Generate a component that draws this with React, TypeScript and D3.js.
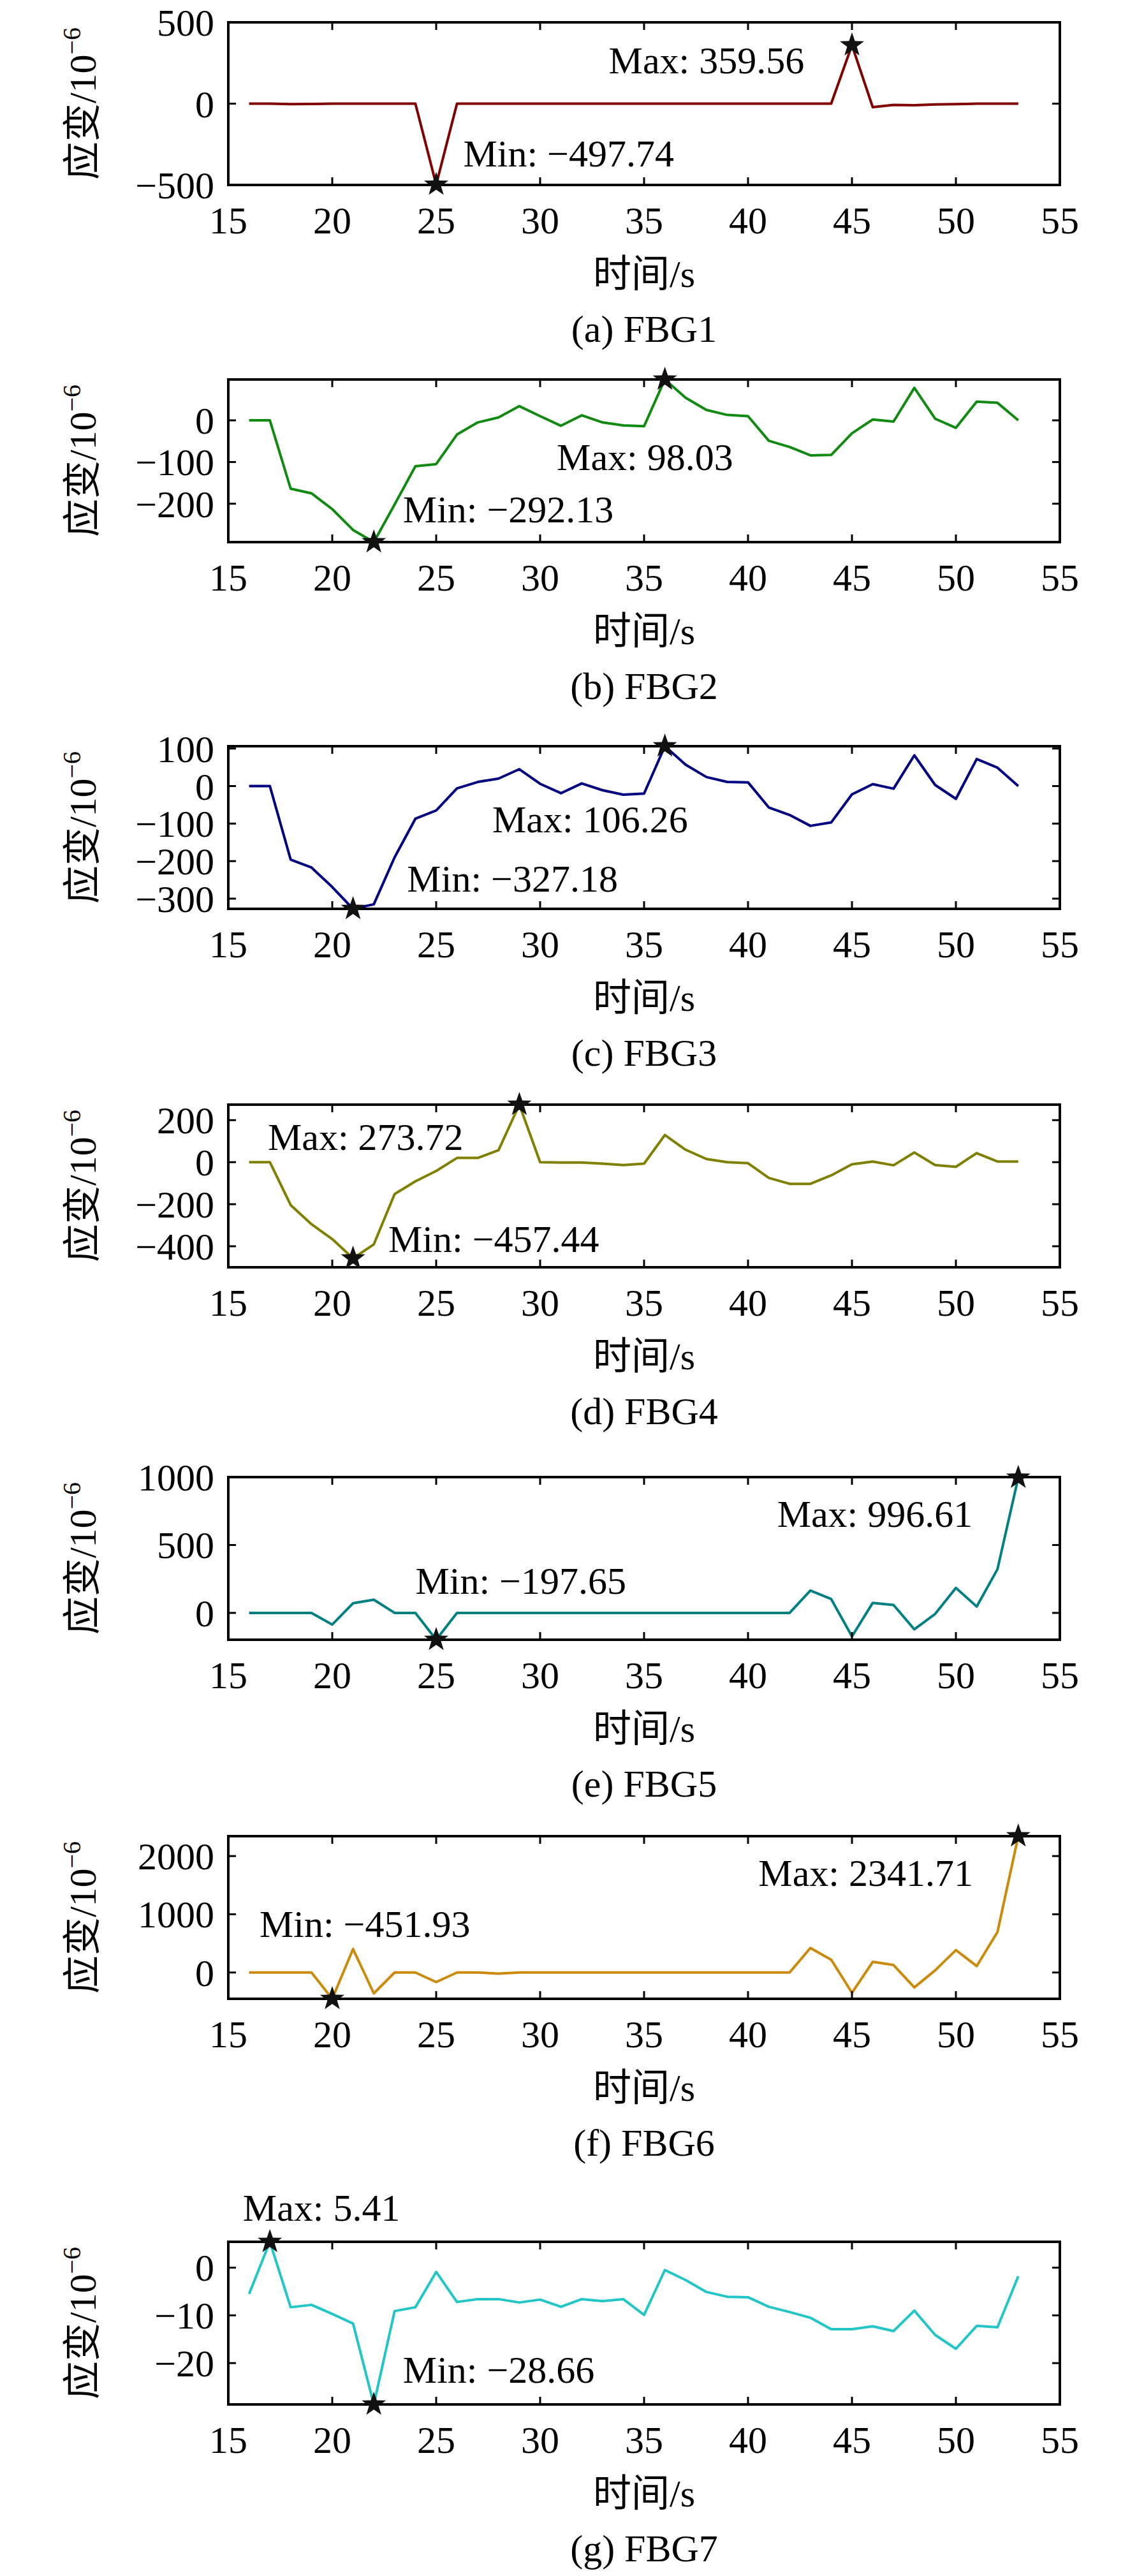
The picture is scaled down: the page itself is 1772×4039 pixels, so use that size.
import React from 'react';
import * as d3 from 'd3';

const times = d3.range(16, 54);

const fbg1 = [0, 0, -3, -2, 0, 0, 0, 0, 0, -497.74, 0, 0, 0, 0, 0, 0, 0, 0, 0, 0, 0, 0, 0, 0, 0, 0, 0, 0, 0, 359.56, -22, -8, -10, -5, -3, 0, 0, 0];
const fbg2 = [0, 0, -164, -175, -213, -263, -292.13, -202, -110, -105, -34, -5, 7, 34, 10, -13, 12, -5, -12, -14, 98.03, 54, 25, 13, 10, -49, -64, -84, -83, -31, 2, -3, 78, 4, -18, 45, 42, 0];
const fbg3 = [0, 0, -196, -217, -269, -327.18, -315, -190, -87, -65, -6, 11, 20, 45, 6, -19, 7, -11, -23, -20, 106.26, 57, 24, 11, 10, -57, -77, -106, -97, -22, 5, -7, 82, 3, -34, 72, 49, 0];
const fbg4 = [0, 0, -204, -295, -366, -457.44, -391, -152, -91, -42, 20, 20, 57, 273.72, 0, -2, -2, -7, -14, -7, 129, 59, 15, 0, -5, -75, -103, -103, -63, -10, 3, -15, 46, -14, -22, 43, 3, 3];
const fbg5 = [0, 0, 0, 0, -86, 71, 97, 0, 0, -197.65, 0, 0, 0, 0, 0, 0, 0, 0, 0, 0, 0, 0, 0, 0, 0, 0, 0, 165, 102, -173, 74, 58, -121, -8, 184, 47, 322, 996.61];
const fbg6 = [0, 0, 0, 0, -451.93, 403, -359, 0, 0, -165, 0, 0, -18, 0, 0, 0, 0, 0, 0, 0, 0, 0, 0, 0, 0, 0, 0, 421, 220, -348, 183, 128, -256, 37, 385, 110, 696, 2341.71];
const fbg7 = [-5.5, 5.41, -8.3, -7.8, -9.7, -11.7, -28.66, -9.1, -8.3, -0.9, -7.2, -6.6, -6.6, -7.3, -6.7, -8.2, -6.6, -7.0, -6.6, -9.9, -0.5, -2.6, -5.1, -6.1, -6.2, -8.2, -9.3, -10.5, -12.9, -12.9, -12.3, -13.3, -9.0, -14.1, -17.0, -12.2, -12.5, -1.8];

const xTicks = [15, 20, 25, 30, 35, 40, 45, 50, 55];

interface Panel {
  name: string;
  values: number[];
  color: string;
  domain: [number, number];
  yTicks: number[];
  maxLabel: [number, number];
  minLabel: [number, number];
  top: number;
}

const panels: Panel[] = [
  { name: '(a) FBG1', values: fbg1, color: '#800000', domain: [-500, 500], yTicks: [-500, 0, 500], maxLabel: [33.3, 185], minLabel: [26.3, -386], top: 35 },
  { name: '(b) FBG2', values: fbg2, color: '#108a10', domain: [-292.13, 98.03], yTicks: [-200, -100, 0], maxLabel: [30.8, -119], minLabel: [23.4, -245], top: 595 },
  { name: '(c) FBG3', values: fbg3, color: '#000080', domain: [-327.18, 106.26], yTicks: [-300, -200, -100, 0, 100], maxLabel: [27.7, -124], minLabel: [23.6, -281], top: 1170 },
  { name: '(d) FBG4', values: fbg4, color: '#808000', domain: [-500, 273.72], yTicks: [-400, -200, 0, 200], maxLabel: [16.9, 59], minLabel: [22.7, -427], top: 1732 },
  { name: '(e) FBG5', values: fbg5, color: '#008080', domain: [-197.65, 1000], yTicks: [0, 500, 1000], maxLabel: [41.4, 632], minLabel: [24.0, 142], top: 2316 },
  { name: '(f) FBG6', values: fbg6, color: '#cc8a0a', domain: [-451.93, 2341.71], yTicks: [0, 1000, 2000], maxLabel: [40.5, 1484], minLabel: [16.5, 615], top: 2879 },
  { name: '(g) FBG7', values: fbg7, color: '#22c6c6', domain: [-28.66, 5.41], yTicks: [-20, -10, 0], maxLabel: [15.7, 9.8], minLabel: [23.4, -24.1], top: 3515 },
];

const LEFT = 358;
const RIGHT = 1662;
const H = 255;
const FONT = '"Liberation Serif", "Times New Roman", "Noto Sans CJK SC", serif';
const FS = 60;
const TICK = 12;

const starPath = (() => {
  const pts: string[] = [];
  for (let i = 0; i < 10; i++) {
    const r = i % 2 === 0 ? 20 : 8;
    const a = -Math.PI / 2 + (i * Math.PI) / 5;
    pts.push(`${(r * Math.cos(a)).toFixed(2)},${(r * Math.sin(a)).toFixed(2)}`);
  }
  return 'M' + pts.join('L') + 'Z';
})();

const fmt = (v: number) => v.toFixed(2).replace('-', '\u2212');
const tickFmt = (v: number) => String(v).replace('-', '\u2212');

const PanelChart: React.FC<{ p: Panel }> = ({ p }) => {
  const x = d3.scaleLinear().domain([15, 55]).range([LEFT, RIGHT]);
  const y = d3.scaleLinear().domain(p.domain).range([p.top + H, p.top]);
  const pts = times.map((t, i) => [t, p.values[i]] as [number, number]);
  const line = d3.line<[number, number]>().x(d => x(d[0])).y(d => y(d[1]));
  const maxI = d3.maxIndex(p.values);
  const minI = d3.minIndex(p.values);
  const bottom = p.top + H;
  return (
    <g>
      <path d={line(pts) || ''} fill="none" stroke={p.color} strokeWidth={4} strokeLinejoin="round" />
      {xTicks.map(t => (
        <g key={'x' + t}>
          <line x1={x(t)} x2={x(t)} y1={bottom} y2={bottom - TICK} stroke="#000" strokeWidth={3} />
          <line x1={x(t)} x2={x(t)} y1={p.top} y2={p.top + TICK} stroke="#000" strokeWidth={3} />
          <text x={x(t)} y={bottom + 76} textAnchor="middle" fontSize={FS} fontFamily={FONT}>{t}</text>
        </g>
      ))}
      {p.yTicks.map(t => (
        <g key={'y' + t}>
          <line x1={LEFT} x2={LEFT + TICK} y1={y(t)} y2={y(t)} stroke="#000" strokeWidth={3} />
          <line x1={RIGHT} x2={RIGHT - TICK} y1={y(t)} y2={y(t)} stroke="#000" strokeWidth={3} />
          <text x={LEFT - 22} y={y(t) + 21} textAnchor="end" fontSize={FS} fontFamily={FONT}>{tickFmt(t)}</text>
        </g>
      ))}
      <rect x={LEFT} y={p.top} width={RIGHT - LEFT} height={H} fill="none" stroke="#000" strokeWidth={4} />
      <path d={starPath} transform={`translate(${x(times[maxI])},${y(p.values[maxI])})`} fill="#111" />
      <path d={starPath} transform={`translate(${x(times[minI])},${y(p.values[minI])})`} fill="#111" />
      <text x={x(p.maxLabel[0])} y={y(p.maxLabel[1])} fontSize={FS} fontFamily={FONT}>Max: {fmt(p.values[maxI])}</text>
      <text x={x(p.minLabel[0])} y={y(p.minLabel[1])} fontSize={FS} fontFamily={FONT}>Min: {fmt(p.values[minI])}</text>
      <text transform={`translate(150,${p.top + H / 2}) rotate(-90)`} textAnchor="middle" fontSize={FS} fontFamily={FONT}>
        应变/10<tspan dy={-24} fontSize={40}>−6</tspan>
      </text>
      <text x={(LEFT + RIGHT) / 2} y={bottom + 160} textAnchor="middle" fontSize={FS} fontFamily={FONT}>时间/s</text>
      <text x={(LEFT + RIGHT) / 2} y={bottom + 246} textAnchor="middle" fontSize={FS} fontFamily={FONT}>{p.name}</text>
    </g>
  );
};

export default function App() {
  return (
    <svg width={1772} height={4039} style={{ position: 'absolute', left: 0, top: 0, background: '#fff' }}>
      <rect width={1772} height={4039} fill="#fff" />
      {panels.map(p => <PanelChart key={p.name} p={p} />)}
    </svg>
  );
}
